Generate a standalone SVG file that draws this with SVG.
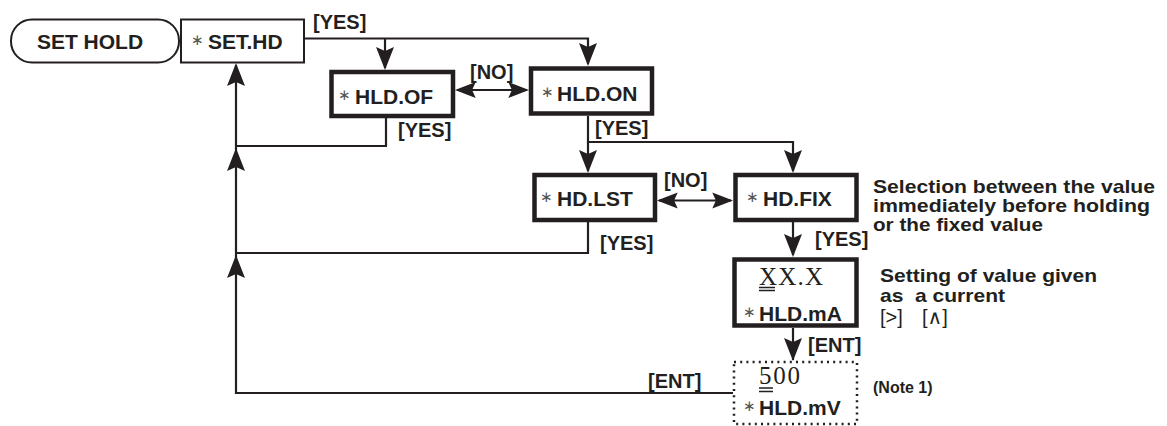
<svg xmlns="http://www.w3.org/2000/svg" xmlns:xlink="http://www.w3.org/1999/xlink" width="1167" height="426" viewBox="0 0 1167 426">
<style>
  .thin{fill:#fff;stroke:#231f20;stroke-width:2}
  .thick{fill:#fff;stroke:#231f20;stroke-width:4.5}
  .dot{fill:#fff;stroke:#231f20;stroke-width:2.5;stroke-dasharray:2 4.2}
  .ln{fill:none;stroke:#231f20;stroke-width:2.2}
  .ul{fill:none;stroke:#231f20;stroke-width:1.3}
  .nt{font-family:"Liberation Sans",Arial,sans-serif;font-weight:bold;font-size:21px;fill:#231f20}
  .lb{font-family:"Liberation Sans",Arial,sans-serif;font-weight:bold;font-size:20px;fill:#231f20}
  .ast{font-family:"DejaVu Sans",sans-serif;font-size:15px;fill:#555}
  .sf{font-family:"Liberation Serif","Times New Roman",serif;font-size:25px;fill:#231f20}
  .note{font-family:"Liberation Sans",Arial,sans-serif;font-weight:bold;font-size:19px;fill:#231f20}
  .reg{font-family:"Liberation Sans","DejaVu Sans",sans-serif;font-size:20px;fill:#231f20}
  .sm{font-family:"Liberation Sans",Arial,sans-serif;font-weight:bold;font-size:16px;fill:#231f20}
</style>
<defs>
  <path id="ah" d="M0,0 L-9,-23 L0,-19 L9,-23 Z" fill="#231f20"/>
</defs>
<rect width="1167" height="426" fill="#fff"/>

<g id="connectors">
  <path class="ln" d="M305,38.5 H588 V64"/>
  <path class="ln" d="M385,38.5 V68"/>
  <path class="ln" d="M457,90 H527"/>
  <path class="ln" d="M386,118 V146 H236"/>
  <path class="ln" d="M588,116 V142 H793 V171"/>
  <path class="ln" d="M588,142 V171"/>
  <path class="ln" d="M659,200.5 H731"/>
  <path class="ln" d="M588,222 V253 H236"/>
  <path class="ln" d="M793,222 V255"/>
  <path class="ln" d="M793,328 V360"/>
  <path class="ln" d="M733,393 H236 V65"/>
  <use xlink:href="#ah" transform="translate(385,70)"/>
  <use xlink:href="#ah" transform="translate(588,66)"/>
  <use xlink:href="#ah" transform="translate(455,90) rotate(90) scale(0.9)"/>
  <use xlink:href="#ah" transform="translate(529,90) rotate(-90) scale(0.9)"/>
  <use xlink:href="#ah" transform="translate(588,173)"/>
  <use xlink:href="#ah" transform="translate(793,173)"/>
  <use xlink:href="#ah" transform="translate(657,200.5) rotate(90) scale(0.9)"/>
  <use xlink:href="#ah" transform="translate(733,200.5) rotate(-90) scale(0.9)"/>
  <use xlink:href="#ah" transform="translate(793,257)"/>
  <use xlink:href="#ah" transform="translate(793,361)"/>
  <use xlink:href="#ah" transform="translate(236,63) rotate(180)"/>
  <use xlink:href="#ah" transform="translate(236,148) rotate(180)"/>
  <use xlink:href="#ah" transform="translate(236,255) rotate(180)"/>
  <text class="lb" x="313" y="29">[YES]</text>
  <text class="lb" x="470" y="79">[NO]</text>
  <text class="lb" x="398" y="137">[YES]</text>
  <text class="lb" x="595" y="135">[YES]</text>
  <text class="lb" x="664" y="187">[NO]</text>
  <text class="lb" x="600" y="250">[YES]</text>
  <text class="lb" x="815" y="246">[YES]</text>
  <text class="lb" x="808" y="352">[ENT]</text>
  <text class="lb" x="648" y="388">[ENT]</text>
</g>

<g id="set-hold">
  <rect class="thin" x="11" y="19.5" width="168" height="43" rx="21" ry="21"/>
  <text class="nt" x="90" y="49" text-anchor="middle">SET HOLD</text>
</g>

<g id="set-hd">
  <rect class="thin" x="181" y="19.5" width="123" height="43"/>
  <text class="ast" x="191" y="45">∗</text>
  <text class="nt" x="208" y="49">SET.HD</text>
</g>

<g id="hld-of">
  <rect class="thick" x="331.5" y="72" width="121.5" height="44"/>
  <text class="ast" x="338" y="100">∗</text>
  <text class="nt" x="355" y="104">HLD.OF</text>
</g>

<g id="hld-on">
  <rect class="thick" x="531" y="68.5" width="121" height="45"/>
  <text class="ast" x="541" y="97">∗</text>
  <text class="nt" x="557" y="101">HLD.ON</text>
</g>

<g id="hd-lst">
  <rect class="thick" x="534.5" y="175" width="120.5" height="45"/>
  <text class="ast" x="540" y="202">∗</text>
  <text class="nt" x="557" y="206">HD.LST</text>
</g>

<g id="hd-fix">
  <rect class="thick" x="735.5" y="175" width="121" height="45"/>
  <text class="ast" x="746" y="202">∗</text>
  <text class="nt" x="763" y="206">HD.FIX</text>
  <text class="note" x="873" y="193" textLength="282" lengthAdjust="spacingAndGlyphs">Selection between the value</text>
  <text class="note" x="873" y="212" textLength="277" lengthAdjust="spacingAndGlyphs">immediately before holding</text>
  <text class="note" x="873" y="231" textLength="170" lengthAdjust="spacingAndGlyphs">or the fixed value</text>
</g>

<g id="hld-ma">
  <rect class="thick" x="734.5" y="259.5" width="122" height="66"/>
  <text class="sf" x="759" y="285" textLength="64" lengthAdjust="spacing">XX.X</text>
  <path class="ul" d="M759,287.5 H775 M759,290.5 H775"/>
  <text class="ast" x="743" y="317">∗</text>
  <text class="nt" x="759" y="321">HLD.mA</text>
  <text class="note" x="880" y="282" textLength="217" lengthAdjust="spacingAndGlyphs">Setting of value given</text>
  <text class="note" x="880" y="302" textLength="125" lengthAdjust="spacingAndGlyphs" xml:space="preserve">as  a current</text>
  <text class="reg" x="880" y="324">[&gt;]</text>
  <text class="reg" x="922" y="324">[∧]</text>
</g>

<g id="hld-mv">
  <rect class="dot" x="734" y="362" width="123" height="62"/>
  <text class="sf" x="759" y="384" textLength="41" lengthAdjust="spacing">500</text>
  <path class="ul" d="M759,388 H773 M759,391.5 H773"/>
  <text class="ast" x="743" y="411">∗</text>
  <text class="nt" x="759" y="415">HLD.mV</text>
  <text class="sm" x="873" y="393">(Note 1)</text>
</g>
</svg>
